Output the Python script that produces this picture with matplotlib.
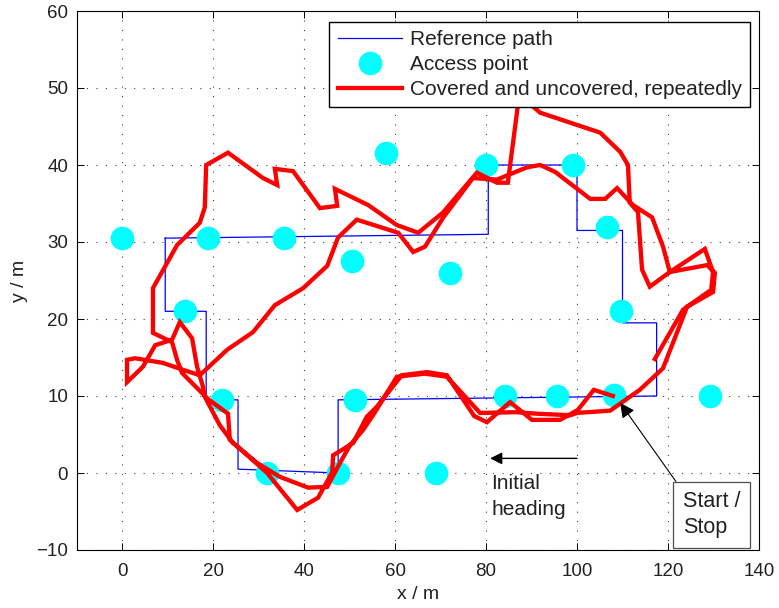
import matplotlib
matplotlib.use("Agg")
import matplotlib.pyplot as plt
import numpy as np

plt.rcParams['font.family'] = ['Liberation Sans', 'DejaVu Sans']

# Planned reference route (closed loop)
ref_x = [9.5, 9.5, 18.5, 18.5, 25.5, 25.5, 47.5, 47.5, 117.5, 117.5, 110, 110,
         100, 100, 80.5, 80.5, 9.5]
ref_y = [30.5, 21, 21, 9.5, 9.5, 0.5, 0, 9.5, 10, 19.5, 19.5, 31.5,
         31.5, 40, 40, 31, 30.5]

# Access point locations
ap_x = [0, 19.0, 35.5, 13.8, 21.9, 31.8, 47.5, 69.0, 51.1, 50.6, 72.1, 58.0,
        80.1, 99.2, 106.7, 109.7, 84.2, 95.7, 108.2, 129.2]
ap_y = [30.5, 30.5, 30.5, 21.0, 9.5, 0, 0, 0, 9.5, 27.5, 26.0, 41.5,
        40.0, 40.0, 32.0, 21.0, 10.0, 10.0, 10.1, 10.0]

# Driven trajectory, first lap (outer route along the top)
lap1_x = [107.9, 103.7, 100.2, 96.3, 90.1, 85.3, 80.2, 77.4, 71.4, 67.0, 61.5,
          56.0, 53.8, 50.8, 46.4, 46.2, 43.1, 38.5, 31.9, 26.8, 23.7, 23.3, 18.9,
          13.2, 12.1, 11.0, 6.8, 6.8, 12.1, 17.1, 18.2, 18.5, 23.3, 31.0, 34.1,
          33.6, 37.6, 43.5, 47.3, 46.8, 54.1, 60.4, 65.1, 70.5, 78.0, 82.4, 84.8,
          87.3, 91.9, 105.1, 109.5, 111.2, 111.6, 113.4, 114.3, 116.0, 120.4,
          128.6, 130.3, 129.9, 124.2, 118.9, 113.8, 107.3, 100.0]
lap1_y = [10.0, 10.8, 8.2, 6.9, 6.9, 9.2, 6.6, 7.4, 12.7, 13.1, 12.7,
          8.6, 7.3, 3.9, 2.3, 0.1, -3.2, -4.8, 0.0, 2.7, 4.3, 7.7, 9.6,
          13.0, 14.7, 17.0, 18.2, 24.0, 29.6, 32.5, 34.5, 40.0, 41.6, 38.3, 37.4,
          39.5, 39.2, 34.4, 34.7, 36.9, 34.8, 32.2, 31.2, 33.8, 39.0, 37.7, 37.7,
          49.1, 46.8, 44.2, 41.7, 40.0, 35.1, 33.9, 26.4, 24.2, 26.1,
          27.0, 26.0, 23.5, 21.6, 13.6, 10.8, 8.1, 7.8]

# Second lap (inner diagonal route), ending on the right side
lap2_x = [98.5, 91.2, 86.8, 78.7, 71.4, 66.6, 60.4, 55.6, 53.0, 50.1, 47.9,
          45.1, 40.9, 34.7, 29.7, 24.4, 21.5, 18.2, 17.8, 16.5, 15.4, 12.7, 11.0,
          7.3, 4.6, 1.1, 1.1, 2.9, 9.0, 13.4, 17.1, 23.1, 28.8, 33.6, 39.8, 45.1,
          47.5, 51.6, 60.7, 64.0, 66.6, 70.5, 77.1, 82.4, 89.0, 91.9, 95.2,
          102.9, 106.2, 108.8, 112.3, 116.5, 118.9, 120.4, 128.1, 129.9, 129.5,
          123.3, 117.1]
lap2_y = [7.5, 7.7, 7.9, 7.8, 12.5, 12.9, 12.5, 7.9, 5.6, 3.6, 1.3,
          -1.8, -1.9, -0.5, 1.3, 3.9, 6.2, 9.9, 11.2, 13.8, 17.5, 19.6, 17.3,
          16.6, 13.8, 11.8, 14.7, 14.9, 14.3, 13.4, 12.7, 16.0, 18.3, 21.8, 24.0, 26.9,
          30.6, 32.9, 31.2, 28.7, 29.4, 33.1, 38.3, 38.1, 39.7, 40.0, 39.1,
          35.6, 35.6, 37.0, 34.8, 33.2, 29.4, 26.1, 29.1, 26.1, 23.8,
          21.2, 14.8]

path_x = lap1_x + lap2_x
path_y = lap1_y + lap2_y

x_ticks = [0, 20, 40, 60, 80, 100, 120, 140]
y_ticks = [-10, 0, 10, 20, 30, 40, 50, 60]

fig = plt.figure(figsize=(7.79, 6.08), dpi=100)
ax = fig.add_axes([76.5 / 779, 58 / 608, 682.5 / 779, 539 / 608])

ax.plot(ref_x, ref_y, color='#0000ff', lw=0.9, label='Reference path', zorder=2)
ax.plot(ap_x, ap_y, linestyle='none', marker='o', markersize=16,
        markerfacecolor='#00ffff', markeredgecolor='#00ffff',
        label='Access point', zorder=3)
ax.plot(path_x, path_y, color='#ff0000', lw=3.1, solid_joinstyle='miter',
        label='Covered and uncovered, repeatedly', zorder=4)

ax.set_xlim(-10, 140)
ax.set_ylim(-10, 60)
ax.set_xticks(x_ticks)
ax.set_yticks(y_ticks)
ax.set_xticklabels([str(v) for v in x_ticks])
ax.set_yticklabels([str(v).replace('-', '\u2212') for v in y_ticks])
ax.tick_params(axis='both', direction='in', length=5, width=0.7, top=True,
               right=True, labelsize=13.5, labelcolor='#222222')
ax.tick_params(axis='x', pad=9)
ax.tick_params(axis='y', pad=6)
ax.grid(True, color='0.25', linestyle=(0, (1, 7.5)), linewidth=0.8)
for s in ax.spines.values():
    s.set_linewidth(0.8)
    s.set_color('black')

ax.set_xlabel('x / m', fontsize=14, color='#222222', labelpad=5)
ax.set_ylabel('y / m', fontsize=14, color='#222222', labelpad=6)

leg = ax.legend(loc='upper right', bbox_to_anchor=(1 - 9 / 682.5, 1 - 11 / 539),
                borderaxespad=0, fontsize=15, numpoints=1, handlelength=3.1,
                handletextpad=0.35, labelspacing=0.28, borderpad=0.4,
                fancybox=False, framealpha=1, edgecolor='black')
leg.get_frame().set_linewidth(1.0)
leg.set_zorder(10)
for t in leg.get_texts():
    t.set_color('#222222')

# Initial heading arrow
ax.annotate('', xy=(80.9, 1.9), xytext=(100.0, 1.9),
            arrowprops=dict(arrowstyle='-|>', color='black', lw=1.0,
                            mutation_scale=18, shrinkA=0, shrinkB=0), zorder=6)
ax.text(81.2, -0.1, 'Initial\nheading', ha='left', va='top', fontsize=15,
        color='#222222', linespacing=1.45, zorder=6)

# Start / Stop label with pointer
ax.annotate('Start /\nStop', xy=(109.5, 9.1), xytext=(123.3, -2.4),
            ha='left', va='top', fontsize=15.5, color='#222222', linespacing=1.3,
            bbox=dict(boxstyle='square,pad=0.45', fc='white', ec='0.3', lw=0.9),
            arrowprops=dict(arrowstyle='-|>', color='black', lw=0.8,
                            mutation_scale=22, shrinkA=0, shrinkB=0,
                            relpos=(0, 1)), zorder=6)

fig.savefig('out.png', dpi=100)
